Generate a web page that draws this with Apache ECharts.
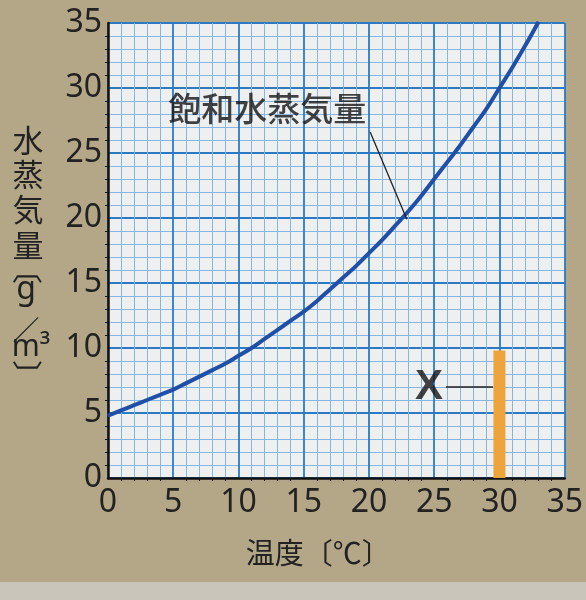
<!DOCTYPE html>
<html><head><meta charset="utf-8">
<script src="https://cdn.jsdelivr.net/npm/echarts@6/dist/echarts.min.js"></script>
<style>html,body{margin:0;padding:0;background:#b3a788;}#c{width:586px;height:600px;}</style>
</head><body><div id="c"></div>
<script>
// Data
const temps = [0,1,2,3,4,5,6,7,8,9,10,11,12,13,14,15,16,17,18,19,20,21,22,23,24,25,26,27,28,29,30,31,32,33];
const satVapor = [4.8,5.2,5.6,6.0,6.4,6.8,7.3,7.8,8.3,8.8,9.4,10.0,10.7,11.4,12.1,12.8,13.6,14.5,15.4,16.3,17.3,18.3,19.4,20.5,21.7,23.0,24.3,25.6,27.0,28.4,30.0,31.6,33.3,35.1];
const xTicks = [0,5,10,15,20,25,30,35];
const yTicks = [0,5,10,15,20,25,30,35];
const barX = [30];
const barY = [9.8];
const curveLabel = '飽和水蒸気量';
const curveLabelPos = [12.2, 28.4];
const curveLeader = [[20.1, 26.6],[22.9, 19.9]];
const xLabel = 'X';
const xLabelPos = [24.6, 7.0];
const xLeader = [[25.9, 7.0],[29.5, 7.0]];

const chart = echarts.init(document.getElementById('c'));
const cjk = '"Noto Sans CJK JP", "Noto Sans", sans-serif';
const latin = '"Noto Sans", sans-serif';
function vt(text, x, y, font, size) {
  return {type: 'text', x: x, y: y, z: 10,
    style: {text: text, align: 'center', verticalAlign: 'middle', fill: '#222', fontFamily: font, fontSize: size}};
}
function rt(text, x, y, font, size, rot) {
  return {type: 'group', x: x, y: y, rotation: rot, z: 10,
    children: [{type: 'text', x: 0, y: 0, z: 10,
      style: {text: text, align: 'center', verticalAlign: 'middle', fill: '#222', fontFamily: font, fontSize: size}}]};
}
chart.setOption({
  backgroundColor: '#b3a788',
  animation: false,
  grid: {left: 108, right: 21, top: 23, bottom: 122, show: true, backgroundColor: '#eef0f0', borderWidth: 0},
  xAxis: {
    type: 'value', min: 0, max: 35, interval: 5,
    name: '温度〔℃〕', nameLocation: 'middle', nameGap: 60,
    nameTextStyle: {fontFamily: cjk, fontSize: 29, color: '#222', padding: [0, 36, 0, 0]},
    axisLine: {show: true, onZero: false, lineStyle: {color: '#111', width: 2.5}},
    axisTick: {show: false},
    axisLabel: {fontFamily: latin, fontSize: 32, color: '#222', margin: 9,
      formatter: v => xTicks.includes(v) ? String(v) : ''},
    splitLine: {show: true, lineStyle: {color: '#2c7ac4', width: 1.8}},
    minorTick: {show: true, splitNumber: 5},
    minorSplitLine: {show: true, lineStyle: {color: '#86b6e4', width: 1}}
  },
  yAxis: {
    type: 'value', min: 0, max: 35, interval: 5,
    axisLine: {show: true, onZero: false, lineStyle: {color: '#111', width: 2.5}},
    axisTick: {show: false},
    axisLabel: {fontFamily: latin, fontSize: 32, color: '#222', margin: 6,
      formatter: v => yTicks.includes(v) ? String(v) : ''},
    splitLine: {show: true, lineStyle: {color: '#2c7ac4', width: 1.8}},
    minorTick: {show: true, splitNumber: 5},
    minorSplitLine: {show: true, lineStyle: {color: '#86b6e4', width: 1}}
  },
  series: [
    {type: 'bar', data: barX.map((x, i) => [x, barY[i]]), barWidth: 12,
     itemStyle: {color: '#eea43c'}, z: 3},
    {type: 'line', data: temps.map((t, i) => [t, satVapor[i]]), smooth: 0.4, showSymbol: false,
     lineStyle: {color: '#1f4fa6', width: 4}, clip: true, z: 4},
    {type: 'line', data: curveLeader, showSymbol: false, lineStyle: {color: '#222', width: 1.3}, z: 5},
    {type: 'line', data: xLeader, showSymbol: false, lineStyle: {color: '#222', width: 1.3}, z: 5},
    {type: 'scatter', symbolSize: 0, z: 6,
     data: [{value: curveLabelPos, label: {show: true, position: 'inside', formatter: curveLabel,
       fontFamily: cjk, fontSize: 33, color: '#141414', fontWeight: 500}},
       {value: xLabelPos, label: {show: true, position: 'inside', formatter: xLabel,
       fontFamily: '"Liberation Sans", Arial, sans-serif', fontSize: 42, color: '#141414', fontWeight: 'bold'}}]}
  ],
  graphic: [
    {type: 'rect', shape: {x: 0, y: 582, width: 586, height: 18}, style: {fill: '#c9c5bb'}, z: -1},
    vt('水', 28, 140, cjk, 31),
    vt('蒸', 28, 174, cjk, 31),
    vt('気', 28, 209, cjk, 31),
    vt('量', 28, 245, cjk, 31),
    rt('〔', 27, 269, cjk, 30, -Math.PI / 2),
    vt('g', 26, 290, latin, 32),
    vt('／', 26, 330, cjk, 27),
    vt('m³', 31, 347, latin, 30),
    rt('〕', 27, 375, cjk, 30, -Math.PI / 2)
  ]
});
</script></body></html>
